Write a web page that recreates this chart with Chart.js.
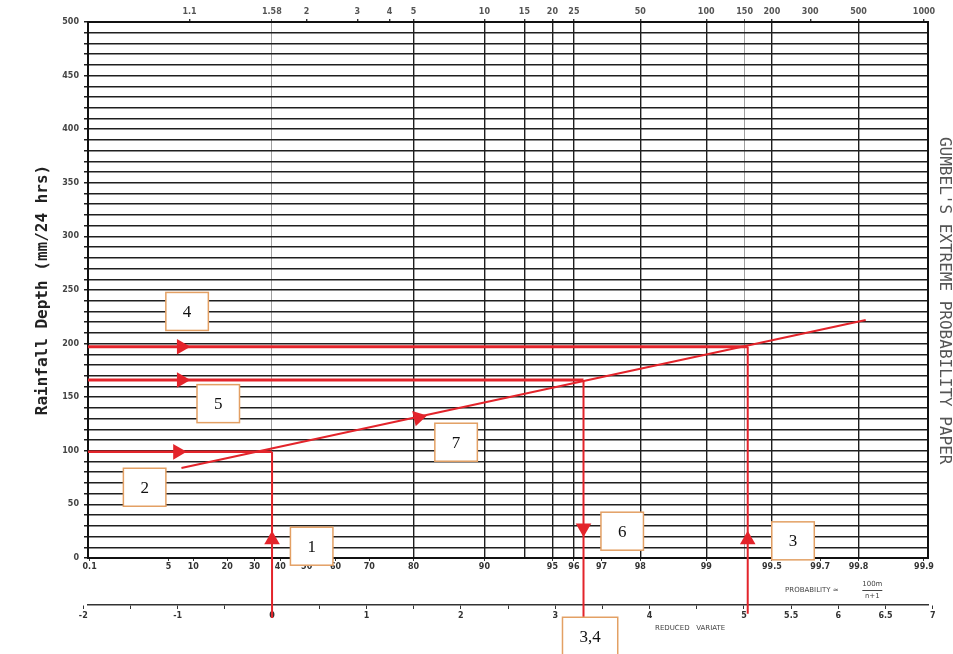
<!DOCTYPE html>
<html>
<head>
<meta charset="utf-8">
<script src="https://cdn.jsdelivr.net/npm/chart.js@4/dist/chart.umd.min.js"></script>
<style>
  body { margin: 0; background: #fff; }
  #wrap { width: 953px; height: 654px; }
</style>
</head>
<body>
<div id="wrap"><canvas id="mycanvas"></canvas></div>
<script>
// paper scales
var returnPeriods = [1.1, 1.58, 2, 3, 4, 5, 10, 15, 20, 25, 50, 100, 150, 200, 300, 500, 1000];
var periodLabels = ['1.1', '1.58', '2', '3', '4', '5', '10', '15', '20', '25', '50', '100', '150', '200', '300', '500', '1000'];
var ruledPeriods = [5, 10, 15, 20, 25, 50, 100, 200, 500];
var faintPeriods = [1.58, 150];
var probabilities = [0.1, 5, 10, 20, 30, 40, 50, 60, 70, 80, 90, 95, 96, 97, 98, 99, 99.5, 99.7, 99.8, 99.9];
var variateTicks = [-2, -1.5, -1, -0.5, 0, 0.5, 1, 1.5, 2, 2.5, 3, 3.5, 4, 4.5, 5, 5.5, 6, 6.5, 7];
var variateLabels = ['-2', '', '-1', '', '0', '', '1', '', '2', '', '3', '', '4', '', '5', '5.5', '6', '6.5', '7'];

// red construction lines (x = reduced variate, y = mm)
var fitX = [-0.96, 6.29];
var fitY = [84, 222];
var h200X = [-1.95, 5.04];
var h200Y = [197, 197];
var h170X = [-1.95, 3.30];
var h170Y = [166, 166];
var h100X = [-1.95, 0];
var h100Y = [99, 99];
var v1X = [0, 0];
var v1Y = [-56, 99];
var v3X = [5.04, 5.04];
var v3Y = [-52, 197];
var v6X = [3.30, 3.30];
var v6Y = [166, -55];

// arrow heads
var arrowX = [-0.96, -0.96, -1.0, 1.55, 0, 5.04, 3.30];
var arrowY = [197, 166, 99, 131, 17, 17, 28];
var arrowAngle = [90, 90, 90, 77, 0, 0, 180];

// numbered callouts
var calloutText = ['4', '5', '2', '7', '1', '6', '3', '3,4'];
var calloutX = [-0.90, -0.57, -1.35, 1.95, 0.42, 3.71, 5.52, 3.37];
var calloutY = [230, 144, 66, 108, 11, 25, 16, -73];

function gumbel(p) { return -Math.log(-Math.log(p)); }

function pts(xs, ys) {
	var out = [];
	for (var i in xs) out.push({x: xs[i], y: ys[i]});
	return out;
}

var red = '#e3242b';
function redLine(xs, ys, w) {
	return {type: 'line', data: pts(xs, ys), borderColor: red, borderWidth: w,
		pointRadius: 0, fill: false, clip: false, tension: 0};
}

var calloutPlugin = {
	id: 'callouts',
	afterDatasetsDraw: function(chart) {
		var c = chart.ctx, xs = chart.scales.x, ys = chart.scales.y, a = chart.chartArea;
		c.save();
		// right side title
		c.translate(a.right + 16, ys.getPixelForValue(240));
		c.rotate(Math.PI / 2);
		c.fillStyle = '#555';
		c.font = '16px "DejaVu Sans Mono", monospace';
		c.textAlign = 'center';
		c.textBaseline = 'middle';
		c.fillText("GUMBEL'S EXTREME PROBABILITY PAPER", 0, 0);
		c.restore();

		c.save();
		c.fillStyle = '#444';
		c.font = '7px "DejaVu Sans", sans-serif';
		c.textAlign = 'center';
		c.textBaseline = 'middle';
		c.fillText('PROBABILITY \u2248', xs.getPixelForValue(5.72), 590);
		c.fillText('100m', xs.getPixelForValue(6.36), 584);
		c.fillText('n+1', xs.getPixelForValue(6.36), 596);
		c.fillRect(xs.getPixelForValue(6.36) - 10, 590, 20, 1);
		c.fillText('REDUCED   VARIATE', xs.getPixelForValue(4.43), 628);
		c.restore();

		c.save();
		c.font = '17px "Liberation Serif", serif';
		c.textAlign = 'center';
		c.textBaseline = 'middle';
		for (var i in calloutText) {
			var px = xs.getPixelForValue(calloutX[i]);
			var py = ys.getPixelForValue(calloutY[i]);
			var w = Math.max(40, c.measureText(calloutText[i]).width + 34);
			var h = 38;
			c.fillStyle = '#fff';
			c.fillRect(px - w / 2, py - h / 2, w, h);
			c.strokeStyle = '#e3a064';
			c.lineWidth = 1.5;
			c.strokeRect(px - w / 2, py - h / 2, w, h);
			c.fillStyle = '#111';
			c.fillText(calloutText[i], px, py + 1);
		}
		c.restore();
	}
};

var tickFont = {family: '"DejaVu Sans", sans-serif', size: 8, weight: 'bold'};
var xMin = -1.95, xMax = 6.95;

var ctx = document.getElementById('mycanvas');
var gumbelChart = new Chart(ctx, {
	type: 'scatter',
	data: {
		datasets: [
			redLine(h200X, h200Y, 3),
			redLine(h170X, h170Y, 3),
			redLine(h100X, h100Y, 2.5),
			redLine(fitX, fitY, 2),
			redLine(v1X, v1Y, 2),
			redLine(v3X, v3Y, 2),
			redLine(v6X, v6Y, 2),
			{
				type: 'scatter',
				data: pts(arrowX, arrowY),
				pointStyle: 'triangle',
				pointRadius: 9,
				pointRotation: arrowAngle,
				backgroundColor: red,
				borderColor: red,
				borderWidth: 0,
				clip: false
			}
		]
	},
	options: {
		responsive: true,
		maintainAspectRatio: false,
		animation: false,
		events: [],
		layout: {padding: {left: 33, right: 25, top: 0, bottom: 9}},
		plugins: {legend: {display: false}, tooltip: {enabled: false}},
		scales: {
			x: {
				type: 'linear', position: 'bottom', min: xMin, max: xMax, weight: 2,
				afterFit: function(s) { s.height = 40; },
				afterBuildTicks: function(s) {
					s.ticks = variateTicks.map(function(v) { return {value: v}; });
				},
				ticks: {
					autoSkip: false, maxRotation: 0, padding: 2, font: tickFont, color: '#333',
					callback: function(v, i) { return variateLabels[i]; }
				},
				grid: {drawOnChartArea: false, tickLength: 4, tickColor: '#333', tickWidth: 1},
				border: {display: true, color: '#333', width: 1.5}
			},
			xProb: {
				type: 'linear', position: 'bottom', min: xMin, max: xMax, weight: 1,
				afterFit: function(s) { s.height = 47; },
				afterBuildTicks: function(s) {
					s.ticks = probabilities.map(function(p) { return {value: gumbel(p / 100)}; });
				},
				ticks: {
					autoSkip: false, maxRotation: 0, padding: 1, font: tickFont, color: '#333',
					callback: function(v, i) { return String(probabilities[i]); }
				},
				grid: {drawOnChartArea: false, tickLength: 3, tickColor: '#333'},
				border: {display: true, color: '#111', width: 2}
			},
			xTop: {
				type: 'linear', position: 'top', min: xMin, max: xMax,
				afterFit: function(s) { s.height = 22; },
				afterBuildTicks: function(s) {
					s.ticks = returnPeriods.map(function(t) { return {value: gumbel(1 - 1 / t)}; });
				},
				ticks: {
					autoSkip: false, maxRotation: 0, padding: 2, font: tickFont, color: '#555',
					callback: function(v, i) { return periodLabels[i]; }
				},
				grid: {
					drawOnChartArea: true, tickLength: 3, tickColor: '#333',
					color: function(c) {
						if (!c.tick) return 'rgba(0,0,0,0)';
						var t = returnPeriods[c.index];
						if (ruledPeriods.indexOf(t) >= 0) return '#1e1e1e';
						if (faintPeriods.indexOf(t) >= 0) return '#888';
						return 'rgba(0,0,0,0)';
					},
					lineWidth: function(c) {
						var t = returnPeriods[c.index];
						return faintPeriods.indexOf(t) >= 0 ? 0.8 : 1.4;
					}
				},
				border: {display: true, color: '#111', width: 2}
			},
			y: {
				type: 'linear', position: 'left', min: 0, max: 500,
				afterFit: function(s) { s.width = 55; },
				ticks: {
					stepSize: 10, autoSkip: false, padding: 5, font: tickFont, color: '#444',
					callback: function(v) { return v % 50 === 0 ? v : ''; }
				},
				grid: {color: '#1f1f1f', lineWidth: 1.5, tickLength: 4},
				border: {display: true, color: '#111', width: 2},
				title: {
					display: true, text: 'Rainfall Depth (mm/24 hrs)', color: '#222', padding: 0,
					font: {family: '"DejaVu Sans Mono", monospace', size: 16, weight: 'bold'}
				}
			},
			yR: {
				type: 'linear', position: 'right', min: 0, max: 500,
				afterFit: function(s) { s.width = 0; },
				ticks: {display: false},
				grid: {drawOnChartArea: false, drawTicks: false},
				border: {display: true, color: '#111', width: 2}
			}
		}
	},
	plugins: [calloutPlugin]
});
</script>
</body>
</html>
